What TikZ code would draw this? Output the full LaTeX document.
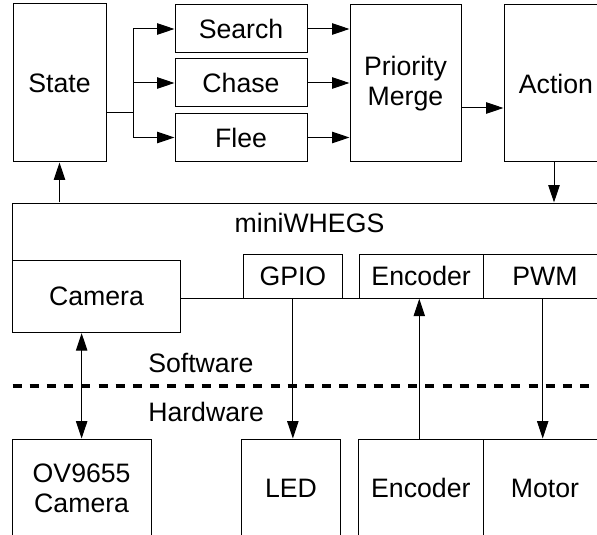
\documentclass[tikz,border=0pt]{standalone}
\usepackage{fontspec}
\setmainfont{Liberation Sans}
\usetikzlibrary{arrows.meta}
\tikzset{
	blk/.style 2 args={draw, line width=0.75pt, fill=white, inner sep=0pt, align=center,
		minimum width=#1*0.75pt, minimum height=#2*0.75pt,
		font=\fontsize{20}{22.5}\selectfont},
	txt/.style={inner sep=0pt, font=\fontsize{20}{22.5}\selectfont},
	conn/.style={line width=0.75pt, -{Triangle[length=13pt,width=8.5pt]}},
	dconn/.style={line width=0.75pt, {Triangle[length=13pt,width=8.5pt]}-{Triangle[length=13pt,width=8.5pt]}},
	divider/.style={line width=3pt, dash pattern=on 6.75pt off 6.15pt}
}
\begin{document}
\begin{tikzpicture}[x=0.75pt, y=-0.75pt]
		\useasboundingbox (0,0) rectangle (597,535);
		\clip (0,0) rectangle (597,535);
		\node[blk={93}{158}] (state) at (59.5,83) {State};
		\node[blk={132}{48}] (search) at (241,29) {Search};
		\node[blk={132}{48}] (chase) at (241,83) {Chase};
		\node[blk={132}{48}] (flee) at (241,137.5) {Flee};
		\node[blk={111}{157}] (merge) at (405.5,83.5) {Priority\\Merge};
		\node[blk={104}{157}] (action) at (556,83.5) {Action};
		\node[blk={607.5}{95.3}] (whegs) at (316.25,250.65) {};
		\node[txt] (whegslbl) at (309.5,223) {miniWHEGS};
		\node[blk={168.4}{72}] (camera) at (96.5,296.7) {Camera};
		\node[blk={98.3}{44}] (gpio) at (292.85,276.3) {GPIO};
		\node[blk={123.7}{44}] (encsw) at (421.15,276.3) {Encoder};
		\node[blk={124}{44}] (pwm) at (545,276.3) {PWM};
		\node[blk={138.7}{98}] (ov) at (81.65,488) {OV9655\\Camera};
		\node[blk={98.6}{98}] (led) at (291,488) {LED};
		\node[blk={124.3}{98}] (enchw) at (420.85,488) {Encoder};
		\node[blk={124}{98}] (motor) at (545,488) {Motor};
		\node[txt, anchor=west] (sw) at (148,363) {Software};
		\node[txt, anchor=west] (hw) at (148,411.7) {Hardware};
		\coordinate (fork) at (133,112.7);
		\coordinate (divl) at (12.5,385.7);
		\coordinate (divr) at (600,385.7);
		\draw[line width=0.75pt] (state.east |- fork) -- (fork);
		\draw[conn] (fork) |- (search.west);
		\draw[conn] (fork) |- (chase.west);
		\draw[conn] (fork) |- (flee.west);
		\draw[conn] (search.east) -- (search.east -| merge.west);
		\draw[conn] (chase.east) -- (chase.east -| merge.west);
		\draw[conn] (flee.east) -- (flee.east -| merge.west);
		\draw[conn] (merge.east |- 0,108) -- (action.west |- 0,108);
		\draw[conn] (action.south -| 554,0) -- (whegs.north -| 554,0);
		\draw[conn] (state.south |- whegs.north) -- (state.south);
		\draw[dconn] (ov.north |- camera.south) -- (ov.north);
		\draw[conn] (gpio.south) -- (gpio.south |- led.north);
		\draw[conn] (enchw.north -| 419.3,0) -- (encsw.south -| 419.3,0);
		\draw[conn] (pwm.south -| 542.7,0) -- (motor.north -| 542.7,0);
		\draw[divider] (divl) -- (divr);
	\end{tikzpicture}
\end{document}
